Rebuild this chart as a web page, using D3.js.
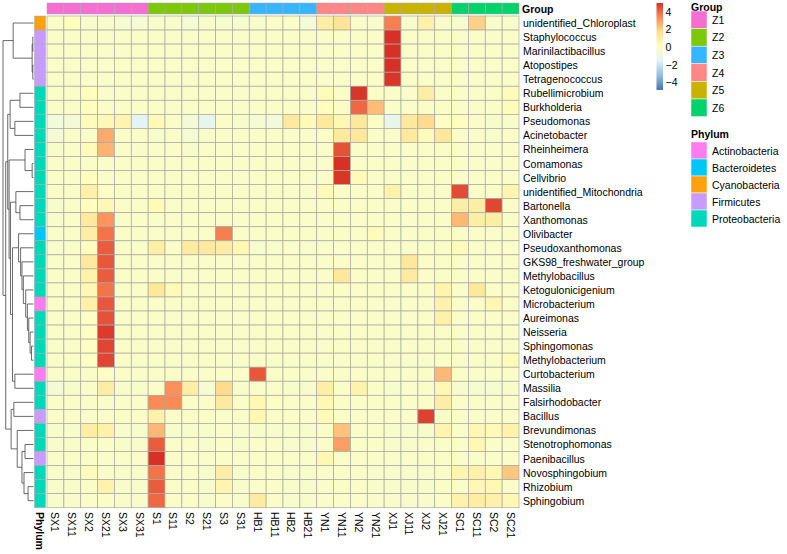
<!DOCTYPE html>
<html><head><meta charset="utf-8">
<script src="https://cdn.jsdelivr.net/npm/d3@7"></script>
<style>body{margin:0;background:#fff}svg{display:block}text{font-family:"Liberation Sans",Arial,sans-serif}</style>
</head><body><svg id="c" width="787" height="554"></svg>
<script>
const columns = ["SX1","SX11","SX2","SX21","SX3","SX31","S1","S11","S2","S21","S3","S31","HB1","HB11","HB2","HB21","YN1","YN11","YN2","YN21","XJ1","XJ11","XJ2","XJ21","SC1","SC11","SC2","SC21"];
const columnGroups = ["Z1","Z1","Z1","Z1","Z1","Z1","Z2","Z2","Z2","Z2","Z2","Z2","Z3","Z3","Z3","Z3","Z4","Z4","Z4","Z4","Z5","Z5","Z5","Z5","Z6","Z6","Z6","Z6"];
const genera = ["unidentified_Chloroplast","Staphylococcus","Marinilactibacillus","Atopostipes","Tetragenococcus","Rubellimicrobium","Burkholderia","Pseudomonas","Acinetobacter","Rheinheimera","Comamonas","Cellvibrio","unidentified_Mitochondria","Bartonella","Xanthomonas","Olivibacter","Pseudoxanthomonas","GKS98_freshwater_group","Methylobacillus","Ketogulonicigenium","Microbacterium","Aureimonas","Neisseria","Sphingomonas","Methylobacterium","Curtobacterium","Massilia","Falsirhodobacter","Bacillus","Brevundimonas","Stenotrophomonas","Paenibacillus","Novosphingobium","Rhizobium","Sphingobium"];
const phyla = ["Cyanobacteria","Firmicutes","Firmicutes","Firmicutes","Firmicutes","Proteobacteria","Proteobacteria","Proteobacteria","Proteobacteria","Proteobacteria","Proteobacteria","Proteobacteria","Proteobacteria","Proteobacteria","Proteobacteria","Bacteroidetes","Proteobacteria","Proteobacteria","Proteobacteria","Proteobacteria","Actinobacteria","Proteobacteria","Proteobacteria","Proteobacteria","Proteobacteria","Actinobacteria","Proteobacteria","Proteobacteria","Firmicutes","Proteobacteria","Proteobacteria","Firmicutes","Proteobacteria","Proteobacteria","Proteobacteria"];
const groupNames = ["Z1","Z2","Z3","Z4","Z5","Z6"];
const groupColors = ["#F46FD1","#7DC80A","#36B6FF","#FF8787","#C8B400","#00D26C"];
const phylumNames = ["Actinobacteria","Bacteroidetes","Cyanobacteria","Firmicutes","Proteobacteria"];
const phylumColors = ["#FF7BF2","#00C8F5","#FFA10A","#C89BFF","#00D8BA"];
const legendTicks = [4,2,0,-2,-4];
const colorStops = ["#4575B4","#91BFDB","#E0F3F8","#FFFFBF","#FEE090","#FC8D59","#D73027"];
const valueRange = [-4.9, 5.0];
// row-scaled abundance (z-score), one array per genus, in column order
const values = [
 [-0.2,0.1,-0.3,-0.3,-0.5,-0.5,-0.3,-0.3,-0.5,-0.3,-0.4,-0.4,-0.3,-0.2,-0.2,-0.5,1.0,1.5,-0.2,-0.3,3.6,-0.3,0.8,-0.3,-0.4,2.0,-0.3,-0.3],
 [-0.2,-0.2,-0.2,-0.2,-0.2,-0.2,-0.2,-0.2,-0.2,-0.2,-0.2,-0.2,-0.2,-0.2,-0.2,-0.2,-0.2,-0.2,-0.2,-0.2,5.0,-0.2,-0.2,-0.2,-0.2,-0.2,-0.2,-0.2],
 [-0.2,-0.2,-0.2,-0.2,-0.2,-0.2,-0.2,-0.2,-0.2,-0.2,-0.2,-0.2,-0.2,-0.2,-0.2,-0.2,-0.2,-0.2,-0.2,-0.2,5.0,-0.2,-0.2,-0.2,-0.2,-0.2,-0.2,-0.2],
 [-0.2,-0.2,-0.2,-0.2,-0.2,-0.2,-0.2,-0.2,-0.2,-0.2,-0.2,-0.2,-0.2,-0.2,-0.2,-0.2,-0.2,-0.2,-0.2,-0.2,5.0,-0.2,-0.2,-0.2,-0.2,-0.2,-0.2,-0.2],
 [-0.2,-0.2,-0.2,-0.2,-0.2,-0.2,-0.2,-0.2,-0.2,-0.2,-0.2,-0.2,-0.2,-0.2,-0.2,-0.2,-0.2,-0.2,-0.2,-0.2,4.9,-0.2,-0.2,-0.2,-0.2,-0.2,-0.2,-0.2],
 [-0.2,-0.2,0.1,-0.2,-0.2,-0.2,-0.2,-0.2,-0.2,-0.2,-0.2,-0.2,-0.2,-0.2,-0.2,-0.2,0.2,-0.2,4.9,-0.2,-0.2,-0.2,1.0,-0.2,-0.2,-0.2,-0.2,0.2],
 [-0.2,-0.2,0.1,-0.2,-0.2,-0.2,-0.2,-0.2,-0.2,-0.2,-0.2,-0.2,-0.2,-0.2,-0.2,-0.2,0.1,-0.2,4.0,2.4,-0.2,-0.2,-0.2,-0.2,-0.2,-0.2,-0.2,0.2],
 [-0.7,-0.6,0.2,0.4,0.6,-1.5,0.3,-0.2,-0.6,-1.3,-0.2,-0.3,-0.5,-0.7,1.2,0.3,1.2,0.5,1.3,-0.1,-1.2,1.2,1.8,-0.1,0.1,-0.2,-0.3,-0.3],
 [-0.6,-0.2,-0.2,2.8,-0.2,-0.2,-0.3,-0.2,-0.5,-0.3,-0.2,-0.2,-0.2,-0.2,-0.2,-0.2,-0.1,1.2,1.3,-0.2,-0.2,1.2,0.2,1.3,-0.2,-0.2,-0.3,-0.2],
 [-0.3,-0.2,0.2,2.6,-0.2,-0.3,-0.2,-0.2,-0.3,-0.2,-0.2,-0.2,-0.2,-0.2,-0.2,-0.2,-0.2,4.4,-0.2,-0.2,-0.2,-0.2,-0.2,-0.2,-0.2,-0.2,-0.2,-0.2],
 [-0.2,-0.2,-0.2,-0.2,-0.2,-0.2,-0.2,-0.2,-0.2,-0.2,-0.2,-0.2,-0.2,-0.2,-0.2,-0.2,-0.2,5.0,-0.2,-0.2,-0.2,-0.2,-0.2,-0.2,-0.2,-0.2,-0.2,-0.2],
 [-0.2,-0.2,0.1,-0.2,-0.2,-0.2,-0.2,-0.2,-0.2,-0.2,-0.2,-0.2,-0.2,-0.2,-0.2,-0.2,-0.2,4.9,0.3,-0.2,-0.2,-0.2,-0.2,-0.2,-0.2,-0.2,-0.2,-0.2],
 [-0.2,-0.2,0.8,-0.1,-0.2,-0.2,-0.2,-0.2,-0.2,-0.2,-0.2,-0.2,-0.2,-0.2,-0.2,-0.2,0.3,-0.2,-0.2,-0.2,0.7,-0.2,-0.2,-0.2,4.5,-0.2,-0.2,0.6],
 [-0.3,-0.2,0.1,0.4,-0.2,-0.2,0.3,-0.2,-0.2,-0.2,-0.2,-0.2,-0.2,-0.2,-0.2,-0.2,-0.2,-0.2,-0.2,-0.2,-0.2,-0.2,-0.2,-0.2,1.0,1.0,4.6,-0.2],
 [-0.3,-0.2,1.2,3.2,-0.2,-0.2,-0.2,-0.2,-0.2,-0.2,-0.2,-0.2,-0.2,-0.2,-0.2,-0.2,-0.2,-0.2,-0.2,-0.2,-0.2,-0.2,-0.2,-0.2,2.5,0.9,1.0,-0.2],
 [-0.2,-0.2,1.0,3.8,-0.2,-0.2,-0.2,-0.2,-0.2,-0.2,3.6,-0.2,-0.2,-0.2,-0.2,-0.2,-0.2,-0.2,-0.2,0.2,-0.2,-0.2,-0.2,-0.2,-0.2,-0.2,-0.2,-0.2],
 [-0.3,-0.2,0.1,4.2,-0.2,-0.2,0.9,-0.2,1.1,1.2,1.0,0.4,-0.4,-0.3,-0.2,-0.3,-0.2,-0.2,-0.2,-0.2,-0.2,-0.2,-0.2,-0.2,0.2,-0.2,-0.2,-0.2],
 [-0.2,-0.2,1.2,4.3,-0.2,-0.2,-0.2,-0.2,-0.2,-0.2,-0.2,-0.2,-0.2,-0.2,-0.2,-0.2,-0.2,-0.2,-0.2,-0.2,-0.2,1.3,-0.2,-0.2,-0.2,-0.2,-0.2,-0.2],
 [-0.2,-0.2,0.7,4.2,-0.2,-0.2,-0.2,-0.2,-0.2,-0.2,-0.2,-0.2,-0.2,-0.2,-0.2,-0.2,-0.2,1.3,-0.2,-0.2,-0.2,1.1,-0.2,-0.2,-0.2,-0.2,-0.2,-0.2],
 [-0.2,-0.2,0.4,3.8,-0.2,-0.2,1.3,0.3,-0.2,-0.2,-0.2,-0.2,-0.2,-0.2,-0.2,-0.2,-0.2,-0.2,-0.2,-0.2,-0.2,-0.2,-0.2,0.6,-0.2,1.3,-0.2,-0.2],
 [-0.2,-0.2,0.8,4.3,-0.2,-0.2,-0.2,-0.2,-0.2,-0.2,-0.2,-0.2,-0.2,-0.2,-0.2,-0.2,-0.2,-0.2,-0.2,-0.2,-0.2,-0.2,-0.2,0.7,-0.2,-0.2,0.5,-0.2],
 [-0.2,-0.2,-0.1,4.4,-0.2,-0.2,-0.2,-0.2,-0.2,-0.2,-0.2,-0.2,-0.2,-0.2,-0.2,-0.2,-0.2,-0.2,-0.2,-0.2,-0.2,-0.2,-0.2,0.8,-0.2,-0.2,-0.2,-0.2],
 [-0.2,-0.2,-0.1,4.8,-0.2,-0.2,-0.2,-0.2,-0.2,-0.2,-0.2,-0.2,-0.2,-0.2,-0.2,-0.2,-0.2,-0.2,-0.2,-0.2,-0.2,-0.2,-0.2,-0.2,-0.2,-0.2,-0.2,-0.2],
 [-0.2,-0.2,-0.1,4.6,-0.2,-0.2,-0.2,-0.2,-0.2,-0.2,-0.2,-0.2,-0.2,-0.2,-0.2,-0.2,-0.2,-0.2,-0.2,-0.2,-0.2,-0.2,-0.2,-0.2,-0.2,-0.2,-0.2,-0.2],
 [-0.2,-0.2,-0.1,4.6,-0.2,-0.2,-0.2,-0.2,-0.2,-0.2,-0.2,-0.2,-0.2,-0.2,-0.2,-0.2,-0.2,-0.2,-0.2,-0.2,-0.2,-0.2,-0.2,-0.2,-0.2,-0.2,-0.2,0.3],
 [-0.2,-0.2,-0.2,-0.1,-0.2,-0.2,-0.2,-0.2,-0.2,-0.2,-0.2,-0.2,4.3,-0.2,-0.2,-0.2,-0.2,-0.2,-0.2,-0.2,-0.2,-0.2,-0.2,2.5,-0.2,-0.2,-0.2,-0.2],
 [-0.6,-0.3,-0.2,1.0,-0.3,-0.3,-0.2,3.3,1.0,-0.5,1.8,-0.3,-0.2,-0.2,-0.3,-0.3,0.9,-0.2,0.7,-0.2,-0.4,-0.2,-0.2,0.5,-0.4,-0.4,-0.4,-0.3],
 [-0.2,-0.2,-0.2,-0.2,-0.2,-0.2,3.4,3.4,-0.2,-0.2,1.2,-0.2,0.4,-0.1,-0.2,-0.2,0.4,-0.2,-0.2,-0.2,-0.2,-0.2,-0.2,1.0,-0.2,-0.2,-0.2,-0.2],
 [-0.2,-0.2,-0.2,-0.2,-0.2,-0.2,0.8,-0.2,-0.2,-0.2,-0.2,-0.2,0.5,-0.2,-0.2,-0.2,0.3,-0.2,-0.2,-0.2,-0.2,-0.2,4.7,-0.2,-0.2,-0.2,-0.2,-0.2],
 [-0.3,-0.3,1.0,0.8,-0.3,-0.3,2.5,-0.3,-0.3,-0.3,-0.2,-0.3,-0.3,-0.3,-0.3,-0.3,-0.2,2.3,-0.2,-0.2,-0.3,-0.3,-0.3,0.6,-0.2,0.5,0.3,0.7],
 [-0.3,-0.3,-0.2,-0.2,-0.3,-0.3,4.2,-0.2,-0.2,-0.3,-0.2,-0.3,-0.2,-0.2,-0.3,-0.3,-0.2,3.0,-0.2,-0.2,-0.3,-0.3,-0.2,-0.2,-0.2,0.5,-0.2,-0.2],
 [-0.2,-0.2,-0.2,-0.2,-0.2,-0.2,5.0,-0.2,-0.2,-0.2,-0.2,-0.2,-0.2,-0.2,-0.2,-0.2,0.4,-0.2,-0.2,-0.2,-0.2,-0.2,-0.2,-0.2,-0.2,-0.2,-0.2,-0.2],
 [-0.3,-0.3,0.2,-0.2,-0.3,-0.3,3.8,-0.2,-0.2,-0.3,1.0,-0.3,-0.2,-0.2,-0.3,-0.3,-0.2,-0.2,-0.2,-0.3,-0.3,-0.3,-0.3,-0.2,0.6,0.8,0.5,2.2],
 [-0.3,-0.3,-0.2,0.7,-0.3,-0.3,4.2,-0.2,-0.2,-0.3,0.6,-0.3,-0.2,-0.2,-0.3,-0.3,-0.2,-0.2,-0.2,-0.3,-0.3,-0.3,-0.3,-0.2,-0.2,0.4,0.4,-0.2],
 [-0.3,-0.3,-0.2,-0.2,-0.3,-0.3,4.0,-0.2,-0.2,-0.3,-0.2,-0.3,1.1,-0.2,-0.3,-0.3,-0.2,-0.2,-0.2,-0.3,-0.3,-0.3,-0.3,-0.2,0.7,1.0,0.8,0.5]
];
// row dendrogram: [left, right, height]; leaves are row indices
const rowTree = [[0,[[1,2,0.2],[3,4,0.2],0.4],6.0],
 [[[[5,6,4.0],[7,8,5.5],6.9],[[9,[10,11,0.4],2.5],[[12,[13,14,4.0],5.2],[[15,[16,[17,[18,[19,[20,[21,[22,[23,24,0.6],1.0],1.4],1.8],2.3],3.0],3.4],3.8],4.4],[25,26,5.5],6.2],6.8],7.2],7.6],
  [[27,28,5.8],[29,[[30,31,2.5],[32,[33,34,1.6],2.8],3.4],4.8],6.6],8.2],9.0];

const svg = d3.select("#c");
const x = d3.scaleBand().domain(columns).range([47, 519]);
const y = d3.scaleBand().domain(genera).range([16, 507.7]);
const color = d3.scaleLinear()
  .domain(d3.range(colorStops.length).map(i => valueRange[0] + i*(valueRange[1]-valueRange[0])/(colorStops.length-1)))
  .range(colorStops).interpolate(d3.interpolateRgb).clamp(true);
const gColor = d3.scaleOrdinal(groupNames, groupColors);
const pColor = d3.scaleOrdinal(phylumNames, phylumColors);
const border = "#a9a9a0";

const cells = [];
values.forEach((row, r) => row.forEach((v, c) => cells.push({g: genera[r], s: columns[c], v})));
svg.append("g").selectAll("rect").data(cells).join("rect")
  .attr("x", d => x(d.s)).attr("y", d => y(d.g))
  .attr("width", x.bandwidth()).attr("height", y.bandwidth())
  .attr("fill", d => color(d.v)).attr("stroke", border).attr("stroke-width", 0.7);

svg.append("g").selectAll("rect").data(columns).join("rect")
  .attr("x", d => x(d)).attr("y", 3).attr("width", x.bandwidth()).attr("height", 11)
  .attr("fill", (d,i) => gColor(columnGroups[i])).attr("stroke", border).attr("stroke-width", 0.5);
svg.append("text").attr("x", 522).attr("y", 9).attr("dominant-baseline","central")
  .attr("font-size", 10.5).attr("font-weight","bold").text("Group");

svg.append("g").selectAll("rect").data(genera).join("rect")
  .attr("x", 34.5).attr("y", d => y(d)).attr("width", 11).attr("height", y.bandwidth())
  .attr("fill", (d,i) => pColor(phyla[i])).attr("stroke", border).attr("stroke-width", 0.5);
svg.append("text").attr("transform","translate(40,512) rotate(90)")
  .attr("dominant-baseline","central").attr("font-size", 10.5).attr("font-weight","bold").text("Phylum");

svg.append("g").selectAll("text").data(genera).join("text")
  .attr("x", 523).attr("y", d => y(d) + y.bandwidth()/2).attr("dominant-baseline","central")
  .attr("font-size", 10.5).text(d => d);
svg.append("g").selectAll("text").data(columns).join("text")
  .attr("transform", d => `translate(${x(d)+x.bandwidth()/2},512) rotate(90)`)
  .attr("dominant-baseline","central").attr("font-size", 10.5).text(d => d);

const hx = d3.scaleLinear().domain([0, 9.0]).range([33.5, 3]);
const dg = svg.append("g").attr("fill","none").attr("stroke","#444").attr("stroke-width",0.8);
function draw(node) {
  if (typeof node === "number") return {y: y(genera[node]) + y.bandwidth()/2, h: 0};
  const a = draw(node[0]), b = draw(node[1]), h = node[2];
  dg.append("path").attr("d", `M${hx(a.h)},${a.y}H${hx(h)}V${b.y}H${hx(b.h)}`);
  return {y: (a.y + b.y)/2, h};
}
draw(rowTree);

const defs = svg.append("defs");
const grad = defs.append("linearGradient").attr("id","cg").attr("x1",0).attr("y1",1).attr("x2",0).attr("y2",0);
colorStops.forEach((c,i) => grad.append("stop").attr("offset", i/(colorStops.length-1)).attr("stop-color", c));
const ky = d3.scaleLinear().domain(valueRange).range([90, 3]);
svg.append("rect").attr("x", 656.5).attr("y", ky(valueRange[1])).attr("width", 6.5)
  .attr("height", ky(valueRange[0]) - ky(valueRange[1])).attr("fill","url(#cg)");
svg.append("g").selectAll("text").data(legendTicks).join("text")
  .attr("x", 665.5).attr("y", d => ky(d)).attr("dominant-baseline","central").attr("font-size", 10.5)
  .text(d => d < 0 ? "\u2212" + Math.abs(d) : d);

svg.append("text").attr("x", 691).attr("y", 7).attr("dominant-baseline","central")
  .attr("font-size", 10.5).attr("font-weight","bold").text("Group");
const gl = svg.append("g").selectAll("g").data(groupNames).join("g")
  .attr("transform", (d,i) => `translate(691,${11 + i*17.6})`);
gl.append("rect").attr("width", 16).attr("height", 17.6).attr("fill", d => gColor(d)).attr("stroke","#fff").attr("stroke-width",0.5);
gl.append("text").attr("x", 21).attr("y", 8.8).attr("dominant-baseline","central").attr("font-size", 10.5).text(d => d);

svg.append("text").attr("x", 691).attr("y", 134).attr("dominant-baseline","central")
  .attr("font-size", 10.5).attr("font-weight","bold").text("Phylum");
const pl = svg.append("g").selectAll("g").data(phylumNames).join("g")
  .attr("transform", (d,i) => `translate(691,${142 + i*17})`);
pl.append("rect").attr("width", 16).attr("height", 17).attr("fill", d => pColor(d)).attr("stroke","#fff").attr("stroke-width",0.5);
pl.append("text").attr("x", 21).attr("y", 8.5).attr("dominant-baseline","central").attr("font-size", 10.5).text(d => d);
</script></body></html>
